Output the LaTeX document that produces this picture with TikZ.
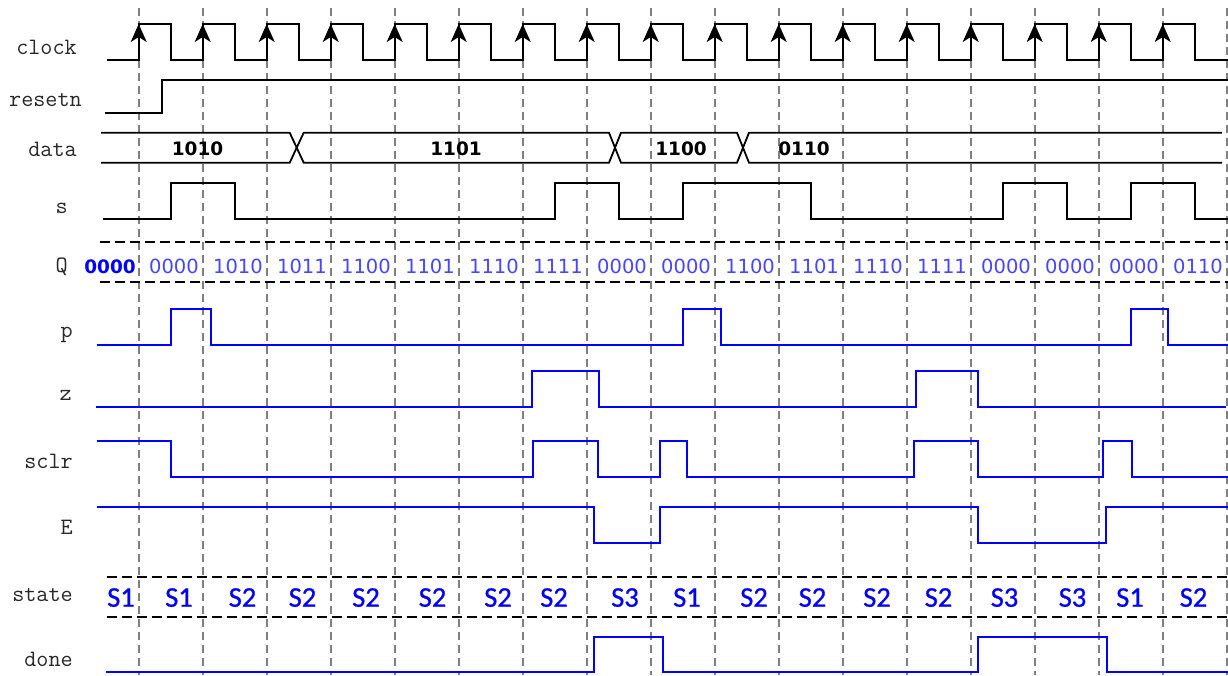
\documentclass[tikz,border=0pt]{standalone}
\usepackage{fontspec}
\usetikzlibrary{arrows.meta}
\newfontfamily\valfont{DejaVu Sans}
\newfontfamily\statefont[FakeBold=0.8]{Carlito}
\definecolor{wblue}{RGB}{0,0,255}
\definecolor{qblue}{RGB}{70,70,255}
\definecolor{gridgrey}{RGB}{128,128,128}
\definecolor{namegrey}{RGB}{40,40,40}

\begin{document}
\begin{tikzpicture}[
    x=1pt, y=-1pt,
    wave/.style={line width=1.8pt, black, line join=miter},
    bluewave/.style={line width=1.8pt, wblue},
    gridline/.style={line width=1.6pt, gridgrey, dash pattern=on 8pt off 5pt},
    busline/.style={line width=1.8pt, black, dash pattern=on 10pt off 5pt},
    clkarrow/.style={line width=1.8pt, -{Stealth[length=18pt, width=16pt, inset=5pt]}},
    signame/.style={anchor=base east, inner sep=0pt, text=namegrey, font=\ttfamily\fontsize{23.5}{26}\selectfont},
    dataval/.style={anchor=base, inner sep=0pt, font=\valfont\bfseries\fontsize{18.5}{22}\selectfont},
    qval/.style={anchor=base, inner sep=0pt, text=qblue, font=\valfont\fontsize{19.5}{23}\selectfont},
    stateval/.style={anchor=base, inner sep=0pt, text=wblue, font=\statefont\fontsize{28.5}{32}\selectfont}
]
\useasboundingbox (0,0) rectangle (1228,675);

% Clock edge grid
\foreach \k in {0,...,17}
    \draw[gridline] ({138.7+64*\k},8) -- ({138.7+64*\k},675);

% Signal names
\node[signame] (nclock) at (77,54) {clock};
\node[signame] (nreset) at (82,106) {resetn};
\node[signame] (ndata) at (77,156.7) {data};
\node[signame] (ns) at (68,213.3) {s};
\node[signame] (nq) at (68,272) {Q};
\node[signame] (np) at (73,337) {p};
\node[signame] (nz) at (72,400.7) {z};
\node[signame] (nsclr) at (73,468.3) {sclr};
\node[signame] (ne) at (73,534) {E};
\node[signame] (nstate) at (73,601.7) {state};
\node[signame] (ndone) at (73,666.7) {done};

% Clock
\draw[wave] (107,60) \foreach \k in {0,...,16}{
    -- ({138.7+64*\k},60) -- ({138.7+64*\k},24) -- ({170.7+64*\k},24) -- ({170.7+64*\k},60)} -- (1228,60);
\foreach \k in {0,...,16}
    \draw[clkarrow] ({138.7+64*\k},50) -- ({138.7+64*\k},24);

% resetn
\draw[wave] (105,113) -| (162.3,80) -- (1228,80);

% data bus
\draw[wave] (101,132.7) -- (289.7,132.7) -- (303.7,162.7) -- (609,162.7) -- (621,132.7) -- (737,132.7) -- (749,162.7) -- (1222,162.7);
\draw[wave] (101,162.7) -- (289.7,162.7) -- (303.7,132.7) -- (609,132.7) -- (621,162.7) -- (737,162.7) -- (749,132.7) -- (1222,132.7);
\node[dataval] (d1) at (197.5,155) {1010};
\node[dataval] (d2) at (456,155) {1101};
\node[dataval] (d3) at (681,155) {1100};
\node[dataval] (d4) at (804,155) {0110};

% s
\draw[wave] (103,219) -| (171,183.3) -| (235,219) -| (555,183.3) -| (619,219) -| (683,183.3) -| (811,219)
    -| (1003,183.3) -| (1067,219) -| (1131,183.3) -| (1195,219) -- (1228,219);

% Q bus
\draw[busline] (100,242.3) -- (1228,242.3);
\draw[busline] (100,282.3) -- (1228,282.3);
\node[dataval, text=wblue] (q0) at (110,273.3) {0000};
\foreach \v [count=\i from 0] in {0000,1010,1011,1100,1101,1110,1111,0000,0000,1100,1101,1110,1111,0000,0000,0000,0110}
    \node[qval] (q\i) at ({174+64*\i},273.3) {\v};

% p
\draw[bluewave] (96.7,345) -| (171,309.3) -| (211,345) -| (683,309.3) -| (721,345) -| (1131,309.3) -| (1168,345) -- (1228,345);

% z
\draw[bluewave] (95.7,406.7) -| (531.7,371) -| (599.3,406.7) -| (915.7,371) -| (977.7,406.7) -- (1226,406.7);

% sclr
\draw[bluewave] (96.7,441) -| (171,477.3) -| (533.3,441) -| (597.7,477.3) -| (659.7,441) -| (687.3,477.3)
    -| (914,441) -| (977.7,477.3) -| (1103.3,441) -| (1131.7,477.3) -- (1228,477.3);

% E
\draw[bluewave] (97.3,506.7) -| (594,542.7) -| (659.7,506.7) -| (977.7,542.7) -| (1105.7,506.7) -- (1228,506.7);

% state bus
\draw[busline] (107.3,576.7) -- (1228,576.7);
\draw[busline] (107.3,616.7) -- (1228,616.7);
\foreach \x/\s [count=\i] in {121/S1,179/S1,242.5/S2,302.5/S2,366/S2,432.5/S2,498/S2,554/S2,625/S3,
    687/S1,754/S2,812.5/S2,877/S2,938.5/S2,1004.5/S3,1072.5/S3,1130/S1,1193.5/S2}
    \node[stateval] (st\i) at (\x,606.7) {\s};

% done
\draw[bluewave] (105.7,672.3) -| (594,636.7) -| (663.3,672.3) -| (977.7,636.7) -| (1107.3,672.3) -- (1228,672.3);
\end{tikzpicture}
\end{document}
